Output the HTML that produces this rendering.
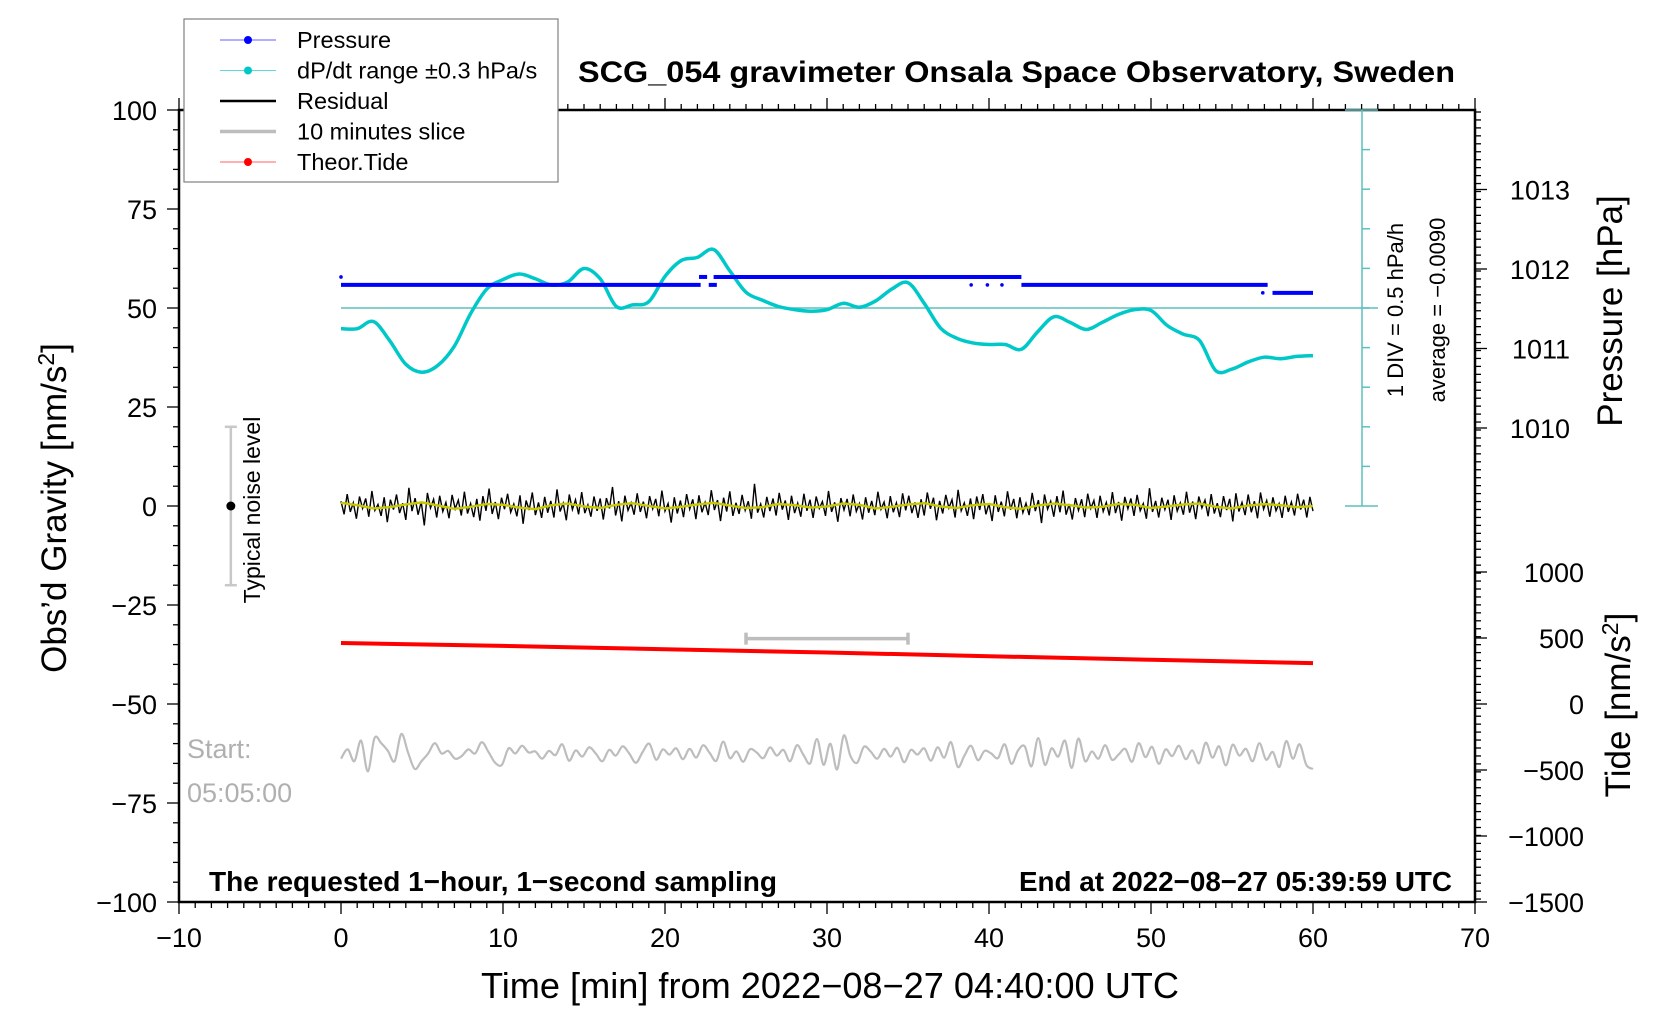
<!DOCTYPE html>
<html><head><meta charset="utf-8"><style>
body{margin:0;background:#fff}
svg{display:block;font-family:"Liberation Sans",sans-serif}
</style></head><body>
<svg id="chart" width="1676" height="1020" viewBox="0 0 1676 1020" xmlns="http://www.w3.org/2000/svg">
<g id="layer"></g>
</svg>
<script>
// ---- data ----
const dpdtTimes = [0,1,2,3,4,5,6,7,8,9,10,11,12,13,14,15,16,17,18,19,20,21,22,23,24,25,26,27,28,29,30,31,32,33,34,35,36,37,38,39,40,41,42,43,44,45,46,47,48,49,50,51,52,53,54,55,56,57,58,59,60];
const dpdtValues = [-0.27,-0.27,-0.18,-0.42,-0.72,-0.82,-0.73,-0.49,-0.08,0.23,0.35,0.42,0.36,0.28,0.32,0.49,0.36,0.01,0.03,0.07,0.39,0.59,0.63,0.73,0.46,0.19,0.09,0.01,-0.03,-0.05,-0.03,0.05,0.00,0.08,0.23,0.31,0.05,-0.26,-0.39,-0.45,-0.47,-0.47,-0.53,-0.31,-0.12,-0.19,-0.28,-0.19,-0.09,-0.03,-0.04,-0.23,-0.34,-0.42,-0.80,-0.78,-0.69,-0.63,-0.65,-0.62,-0.61];
const dpdtAverage = -0.0090;
const pressStart = [0,22.1,22.7,23.0,42.0,57.5];
const pressEnd = [22.2,22.6,23.2,42.0,57.2,60];
const pressValue = [1011.8,1011.9,1011.8,1011.9,1011.8,1011.7];
const pressDotTimes = [0,38.9,39.9,40.8,56.9];
const pressDotValues = [1011.9,1011.8,1011.8,1011.8,1011.7];
const residual = [1.2,-2.1,3.0,-1.5,0.8,-3.2,2.4,-0.6,1.9,-2.7,3.8,-1.1,0.4,-2.5,2.2,-4.1,1.6,-0.9,2.9,-1.8,0.7,-3.5,4.6,-1.3,2.0,-2.2,1.1,-4.9,3.3,-0.5,1.7,-2.9,2.6,-1.4,0.9,-3.1,2.8,-0.7,1.5,-2.4,3.6,-1.9,0.6,-2.8,1.8,-3.7,2.5,-1.2,4.4,-2.0,1.0,-3.3,2.1,-0.8,3.1,-1.6,0.5,-2.6,2.7,-4.5,1.4,-1.0,3.4,-2.3,0.9,-3.0,2.3,-1.7,1.3,-2.9,4.2,-1.4,0.7,-3.6,2.9,-0.9,1.6,-2.1,3.5,-1.8,0.3,-2.7,2.4,-1.2,1.9,-3.4,2.0,-0.6,4.8,-2.4,1.2,-3.9,2.6,-1.1,0.8,-2.2,3.2,-1.5,1.1,-3.1,2.5,-0.7,1.8,-2.6,3.9,-1.3,0.6,-4.2,2.2,-1.9,1.4,-2.8,3.0,-0.8,1.7,-3.3,2.7,-1.6,0.9,-2.3,4.0,-1.0,1.5,-3.8,2.1,-1.4,3.7,-2.5,0.8,-2.0,2.8,-1.1,1.2,-3.2,5.6,-1.7,0.5,-2.9,2.3,-1.3,1.9,-2.4,3.3,-0.9,1.4,-3.5,2.6,-1.8,0.7,-2.7,3.1,-1.2,1.6,-3.0,2.4,-0.6,1.1,-2.5,3.8,-1.5,0.9,-4.0,2.0,-1.0,1.8,-2.6,2.9,-1.4,0.6,-3.4,2.2,-1.7,1.3,-2.3,3.6,-0.8,1.0,-3.1,2.5,-1.6,0.8,-2.8,3.2,-1.1,
 2.6,-1.8,0.9,-3.0,1.7,-2.4,3.4,-0.7,2.1,-3.6,1.3,-1.9,2.8,-0.5,1.6,-2.9,4.1,-1.2,0.8,-2.5,1.9,-3.3,2.4,-1.0,3.0,-2.1,0.6,-3.8,2.7,-1.5,1.1,-2.6,3.7,-0.9,1.8,-3.1,2.2,-1.7,0.7,-2.3,3.3,-1.3,1.5,-4.3,2.9,-0.8,1.2,-2.7,2.5,-1.6,3.9,-2.2,0.5,-3.4,2.0,-1.1,1.7,-2.8,3.1,-0.6,1.4,-3.0,2.6,-1.4,0.9,-2.4,3.5,-1.8,1.0,-3.7,2.3,-0.7,1.9,-2.5,2.8,-1.2,0.6,-3.2,4.5,-1.5,1.3,-2.9,2.1,-0.9,1.6,-3.5,2.7,-1.3,0.8,-2.2,3.6,-1.7,1.1,-3.3,2.4,-0.5,1.5,-2.6,3.0,-1.9,0.7,-2.8,2.5,-1.0,1.8,-3.9,3.2,-1.4,0.9,-2.3,2.9,-1.6,1.2,-3.1,3.4,-0.8,1.4,-2.7,2.2,-1.2,0.6,-3.0,2.6,-1.5,1.0,-2.4,3.1,-0.9,1.6,-2.9,2.3,-1.3];
const smooth = [0.8,0.2,-0.6,-0.3,0.4,0.9,0.1,-0.7,-0.2,0.5,0.3,-0.4,-0.8,0.2,0.6,-0.1,-0.5,0.3,0.7,0.0,-0.6,-0.2,0.4,0.8,0.1,-0.5,-0.3,0.5,0.2,-0.4,-0.1,0.6,0.3,-0.6,-0.2,0.4,0.7,-0.1,-0.5,0.2,0.5,-0.3,-0.7,0.1,0.6,0.2,-0.4,-0.2,0.5,0.3,-0.5,-0.1,0.4,0.6,-0.2,-0.6,0.1,0.5,0.2,-0.3,0.0];
const tideTimes = [0,10,20,30,40,50,60];
const tideValues = [462,440,415,390,362,335,310];
const slice = [-1.0,0.8,-1.5,2.5,-3.5,3.0,2.0,0.5,-1.5,3.8,0.2,-3.0,-1.5,0.0,2.0,0.0,0.5,-1.0,-0.5,0.8,0.0,2.2,0.3,-1.8,-2.2,1.0,0.0,1.5,0.2,0.4,-1.0,0.5,-0.3,1.8,-1.4,0.6,-0.6,1.2,0.0,-1.5,0.7,-0.4,1.4,0.0,-1.8,0.3,1.9,-1.2,0.8,-0.2,1.0,-1.1,0.9,-0.8,1.6,0.1,-1.4,2.3,-0.9,0.4,-1.6,0.8,0.2,-0.9,1.2,-0.4,0.7,-1.5,1.6,-0.3,-1.9,2.8,-2.2,1.9,-3.1,3.5,-0.5,-1.8,1.3,0.4,-1.0,0.9,-0.6,1.1,-1.7,0.7,-0.2,1.0,-1.4,1.2,-0.8,2.2,-2.6,-0.4,1.5,-1.3,0.5,0.0,-0.9,1.8,-2.0,0.6,1.4,-2.5,3.0,-2.2,1.0,-0.6,2.5,-2.8,2.9,-1.5,0.4,-1.0,1.6,-1.2,-0.2,0.9,-1.6,2.0,-0.7,1.3,-2.0,0.8,-0.5,1.5,-1.1,0.6,-1.9,2.1,-0.8,1.4,-2.3,1.7,-0.4,0.9,-1.5,2.0,-1.2,0.3,-2.6,2.4,-1.0,1.8,-2.2,-3.0];
const sliceCenter = -62.5;
const xTicks = [-10,0,10,20,30,40,50,60,70];
const yTicks = [100,75,50,25,0,-25,-50,-75,-100];
const pTicks = [1013,1012,1011,1010];
const tTicks = [1000,500,0,-500,-1000,-1500];

// ---- axes ----
const X0=179,X1=1475,Y0=110,Y1=902;
const xs = t => X0 + (t+10)*(X1-X0)/80;
const ys = g => Y0 + (100-g)*(Y1-Y0)/200;
const ps = p => 269 - (p-1012)*79.5;
const ts = v => 704 - v*66/500;
const ds = v => ys(50) - (v-dpdtAverage)/0.5*39.6;

const NS="http://www.w3.org/2000/svg";
const L=document.getElementById('layer');
function mk(tag,attrs,parent){const e=document.createElementNS(NS,tag);for(const k in attrs)e.setAttribute(k,attrs[k]);(parent||L).appendChild(e);return e;}
function txt(s,attrs,parent){const e=mk('text',attrs,parent);e.textContent=s;return e;}
function catmull(pts){let d=`M${pts[0][0]},${pts[0][1]}`;for(let i=0;i<pts.length-1;i++){const p0=pts[Math.max(0,i-1)],p1=pts[i],p2=pts[i+1],p3=pts[Math.min(pts.length-1,i+2)];d+=` C${p1[0]+(p2[0]-p0[0])/6},${p1[1]+(p2[1]-p0[1])/6} ${p2[0]-(p3[0]-p1[0])/6},${p2[1]-(p3[1]-p1[1])/6} ${p2[0]},${p2[1]}`;}return d;}

// frame
let e=mk('rect',{x:X0,y:Y0,width:X1-X0,height:Y1-Y0,fill:'none',stroke:'#000','stroke-width':2.5});



const tg=mk('g',{stroke:'#000','stroke-width':1.3});


for(let t=-10;t<=70;t++){const maj=t%10===0;const x=xs(t);
 mk('line',{x1:x,x2:x,y1:Y1,y2:Y1+(maj?12:6)},tg);
 mk('line',{x1:x,x2:x,y1:Y0,y2:Y0-(maj?12:6)},tg);}
for(let g=-100;g<=100;g+=5){const maj=g%25===0;mk('line',{x1:X0,x2:X0-(maj?12:6),y1:ys(g),y2:ys(g)},tg);}
for(let y=Y0+2;y<=Y1;y+=7.95){mk('line',{x1:X1,x2:X1+6,y1:y,y2:y},tg);}
pTicks.forEach(p=>mk('line',{x1:X1,x2:X1+12,y1:ps(p),y2:ps(p)},tg));
tTicks.forEach(v=>mk('line',{x1:X1,x2:X1+12,y1:ts(v),y2:ts(v)},tg));

const FS=27;
const xl=mk('g',{'font-size':FS,'text-anchor':'middle',fill:'#000'});


xTicks.forEach(t=>txt(String(t).replace('-','\u2212'),{x:xs(t),y:947},xl));
const yl=mk('g',{'font-size':FS,'text-anchor':'end',fill:'#000'});


yTicks.forEach(g=>txt(String(g).replace('-','\u2212'),{x:X0-22,y:ys(g)+10},yl));
const pl=mk('g',{'font-size':FS,'text-anchor':'end',fill:'#000'});


pTicks.forEach(p=>txt(String(p),{x:1570,y:ps(p)+10},pl));
const tl=mk('g',{'font-size':FS,'text-anchor':'end',fill:'#000'});


tTicks.forEach(v=>txt(String(v).replace('-','\u2212'),{x:1584,y:ts(v)+10},tl));

// titles
e=txt('SCG_054 gravimeter Onsala Space Observatory, Sweden',{x:578,y:82,'font-size':30,'font-weight':'bold',textLength:877,lengthAdjust:'spacingAndGlyphs'});


e=txt('Time [min] from 2022\u221208\u221227 04:40:00 UTC',{x:830,y:998,'font-size':36,'text-anchor':'middle',textLength:698,lengthAdjust:'spacingAndGlyphs'});


e=mk('text',{transform:'translate(66,508) rotate(-90)','font-size':35,'text-anchor':'middle'});
e.innerHTML='Obs\u2019d Gravity [nm/s<tspan dy="-12" font-size="23">2</tspan><tspan dy="12">]</tspan>';


e=txt('Pressure [hPa]',{transform:'translate(1622,311) rotate(-90)','font-size':35,'text-anchor':'middle'});


e=mk('text',{transform:'translate(1630,705) rotate(-90)','font-size':35,'text-anchor':'middle'});
e.innerHTML='Tide [nm/s<tspan dy="-12" font-size="23">2</tspan><tspan dy="12">]</tspan>';



// dP/dt scale bar
const sb=mk('g',{stroke:'#5fbfbf','stroke-width':1.5});


mk('line',{x1:1362,x2:1362,y1:ys(100),y2:ys(0)},sb);
mk('line',{x1:1345,x2:1378,y1:ys(100),y2:ys(100)},sb);
mk('line',{x1:1345,x2:1378,y1:ys(0),y2:ys(0)},sb);
for(let g=10;g<100;g+=10){mk('line',{x1:1362,x2:1370,y1:ys(g),y2:ys(g)},sb);}
e=mk('line',{x1:xs(0),x2:1378,y1:ys(50),y2:ys(50),stroke:'#5fbfbf','stroke-width':1.5});


e=txt('1 DIV = 0.5 hPa/h',{transform:'translate(1403,310) rotate(-90)','font-size':22,'text-anchor':'middle'});


e=txt('average = \u22120.0090',{transform:'translate(1445,310) rotate(-90)','font-size':22,'text-anchor':'middle'});



e=mk('path',{d:catmull(dpdtTimes.map((t,i)=>[xs(t),ds(dpdtValues[i])])),fill:'none',stroke:'#00c8c8','stroke-width':3.5});



const pg=mk('g',{stroke:'#0000ff','stroke-width':4,fill:'#0000ff'});


pressStart.forEach((s,i)=>mk('line',{x1:xs(s),x2:xs(pressEnd[i]),y1:ps(pressValue[i]),y2:ps(pressValue[i])},pg));
pressDotTimes.forEach((t,i)=>mk('circle',{cx:xs(t),cy:ps(pressDotValues[i]),r:1.8,stroke:'none'},pg));

let d='';residual.forEach((v,i)=>{d+=(i?'L':'M')+xs(i*60/(residual.length-1)).toFixed(1)+','+ys(v).toFixed(1);});
e=mk('path',{d:d,fill:'none',stroke:'#000','stroke-width':1.4});


d='';smooth.forEach((v,i)=>{d+=(i?'L':'M')+xs(i*60/(smooth.length-1)).toFixed(1)+','+ys(v).toFixed(1);});
e=mk('path',{d:d,fill:'none',stroke:'#c8c800','stroke-width':2.4});



d='';tideValues.forEach((v,i)=>{d+=(i?'L':'M')+xs(tideTimes[i])+','+ts(v);});
e=mk('path',{d:d,fill:'none',stroke:'#ff0000','stroke-width':4});



const sm=mk('g',{stroke:'#bdbdbd','stroke-width':3.5});


mk('line',{x1:xs(25),x2:xs(35),y1:ys(-33.5),y2:ys(-33.5)},sm);
mk('line',{x1:xs(25),x2:xs(25),y1:ys(-33.5)-6,y2:ys(-33.5)+6},sm);
mk('line',{x1:xs(35),x2:xs(35),y1:ys(-33.5)-6,y2:ys(-33.5)+6},sm);

e=mk('path',{d:catmull(slice.map((v,i)=>[xs(i*60/(slice.length-1)),ys(sliceCenter+v*1.3)])),fill:'none',stroke:'#bdbdbd','stroke-width':2.2});



const nl=mk('g',{stroke:'#c8c8c8','stroke-width':2.5});


mk('line',{x1:xs(-6.8),x2:xs(-6.8),y1:ys(20),y2:ys(-20)},nl);
mk('line',{x1:xs(-6.8)-6,x2:xs(-6.8)+6,y1:ys(20),y2:ys(20)},nl);
mk('line',{x1:xs(-6.8)-6,x2:xs(-6.8)+6,y1:ys(-20),y2:ys(-20)},nl);
mk('circle',{cx:xs(-6.8),cy:ys(0),r:4.5,fill:'#000',stroke:'none'},nl);
e=txt('Typical noise level',{transform:'translate(260,510) rotate(-90)','font-size':23,'text-anchor':'middle'});



e=txt('Start:',{x:187,y:758,'font-size':27,fill:'#b0b0b0'});


e=txt('05:05:00',{x:187,y:802,'font-size':27,fill:'#b0b0b0'});


e=txt('The requested 1\u2212hour, 1\u2212second sampling',{x:209,y:891,'font-size':28,'font-weight':'bold',textLength:568,lengthAdjust:'spacingAndGlyphs'});


e=txt('End at 2022\u221208\u221227 05:39:59 UTC',{x:1019,y:891,'font-size':28,'font-weight':'bold',textLength:433,lengthAdjust:'spacingAndGlyphs'});



const lg=mk('g',{});


mk('rect',{x:184,y:19,width:374,height:163,fill:'#fff',stroke:'#808080','stroke-width':1.2},lg);
const legLabels=['Pressure','dP/dt range \u00b10.3 hPa/s','Residual','10 minutes slice','Theor.Tide'];
const legColors=['#0000ff','#00c8c8','#000','#bdbdbd','#ff0000'];
const legLine=['#6060ff','#60d8d8','#000','#bdbdbd','#ff6060'];
const legW=[1,1,2.5,3.5,1];
const legDot=[true,true,false,false,true];
const legNames=['legend-entry-pressure','legend-entry-dpdt','legend-entry-residual','legend-entry-slice','legend-entry-tide'];
legLabels.forEach((s,i)=>{const y=40+i*30.5;const g=mk('g',{},lg);
 
 
 mk('line',{x1:220,x2:276,y1:y,y2:y,stroke:legLine[i],'stroke-width':legW[i]},g);
 if(legDot[i])mk('circle',{cx:248,cy:y,r:4,fill:legColors[i]},g);
 txt(s,{x:297,y:y+8,'font-size':23.5},g);});
</script>
</body></html>
